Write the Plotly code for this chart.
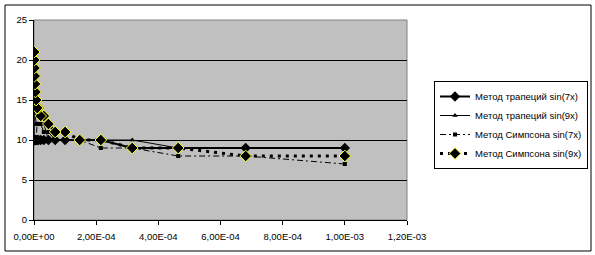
import plotly.graph_objects as go

# ---- data ----
x_eps = [1.0e-3, 6.81e-4, 4.64e-4, 3.16e-4, 2.15e-4, 1.47e-4, 1.0e-4, 6.81e-5,
         4.64e-5, 3.16e-5, 2.15e-5, 1.47e-5, 1.0e-5, 6.81e-6, 4.64e-6, 3.16e-6,
         2.15e-6, 1.47e-6, 1.0e-6, 6.81e-7]

trap_sin7 = [9, 9, 9, 9, 10, 10, 10, 10, 10, 10, 10, 10, 10, 10, 10, 10, 10, 10, 10, 10]
trap_sin9 = [9, 9, 9, 10, 10, 10, 10, 10, 10, 12, 12, 12, 12, 12, 13, 13, 13, 14, 14, 10]
simp_sin7 = [7, 8, 8, 9, 9, 10, 10, 10, 11, 11, 12, 12, 12, 10, 10, 10, 10, 10, 10, 10]
simp_sin9 = [8, 8, 9, 9, 10, 10, 11, 11, 12, 13, 13, 14, 14, 15, 16, 17, 18, 19, 20, 21]

names = ["Метод трапеций sin(7x)", "Метод трапеций sin(9x)",
         "Метод Симпсона sin(7x)", "Метод Симпсона sin(9x)"]

x_tickvals = [0, 2e-4, 4e-4, 6e-4, 8e-4, 1e-3, 1.2e-3]
x_ticktext = ["0,00E+00", "2,00E-04", "4,00E-04", "6,00E-04", "8,00E-04", "1,00E-03", "1,20E-03"]
y_tickvals = [0, 5, 10, 15, 20, 25]

FONT = "Liberation Sans, Arial, sans-serif"

fig = go.Figure()
fig.add_trace(go.Scatter(
    x=x_eps, y=trap_sin7, name=names[0], mode="lines+markers",
    line=dict(color="black", width=2),
    marker=dict(symbol="diamond", size=8, color="black", line=dict(color="black", width=0))))
fig.add_trace(go.Scatter(
    x=x_eps, y=trap_sin9, name=names[1], mode="lines+markers",
    line=dict(color="black", width=1),
    marker=dict(symbol="triangle-up", size=5, color="black")))
fig.add_trace(go.Scatter(
    x=x_eps, y=simp_sin7, name=names[2], mode="lines+markers",
    line=dict(color="black", width=1, dash="6px,3px,2px,3px"),
    marker=dict(symbol="square", size=4, color="black")))
fig.add_trace(go.Scatter(
    x=x_eps, y=simp_sin9, name=names[3], mode="lines+markers",
    line=dict(color="black", width=3, dash="3px,5px"),
    marker=dict(symbol="diamond", size=9, color="black", line=dict(color="#FFFF33", width=1))))

L, R, T, B = 34, 188, 20, 35
W, H = 595, 255
pw, ph = W - L - R, H - T - B

def px_x(p):
    return (p - L) / pw

def px_y(p):
    return (H - B - p) / ph

fig.update_layout(
    width=W, height=H,
    margin=dict(l=L, r=R, t=T, b=B, autoexpand=False),
    paper_bgcolor="white",
    plot_bgcolor="#C0C0C0",
    font=dict(family=FONT, size=10, color="black"),
    showlegend=True,
    legend=dict(
        x=px_x(434), y=px_y(81), xanchor="left", yanchor="top",
        bgcolor="white", bordercolor="black", borderwidth=1,
        font=dict(family=FONT, size=9.5, color="black"),
        tracegroupgap=0, itemwidth=30,
    ),
    xaxis=dict(
        range=[0, 1.2e-3], tickvals=x_tickvals, ticktext=x_ticktext,
        showgrid=False, zeroline=False,
        showline=True, linecolor="black", linewidth=1,
        ticks="outside", ticklen=4, tickcolor="black",
        tickfont=dict(family=FONT, size=9.5, color="black"),
        ticklabelstandoff=4,
    ),
    yaxis=dict(
        range=[0, 25], tickvals=y_tickvals,
        showgrid=True, gridcolor="black", gridwidth=1,
        zeroline=False,
        showline=True, linecolor="black", linewidth=1,
        ticks="outside", ticklen=4, tickcolor="black",
        tickfont=dict(family=FONT, size=9.5, color="black"),
    ),
    shapes=[
        dict(type="rect", xref="paper", yref="paper", x0=0, x1=1, y0=0, y1=1,
             line=dict(color="#808080", width=1), layer="below"),
        dict(type="rect", xref="paper", yref="paper",
             x0=px_x(5), x1=px_x(591), y0=px_y(251), y1=px_y(5),
             line=dict(color="black", width=1)),
    ],
)

fig.write_html("out.html")
